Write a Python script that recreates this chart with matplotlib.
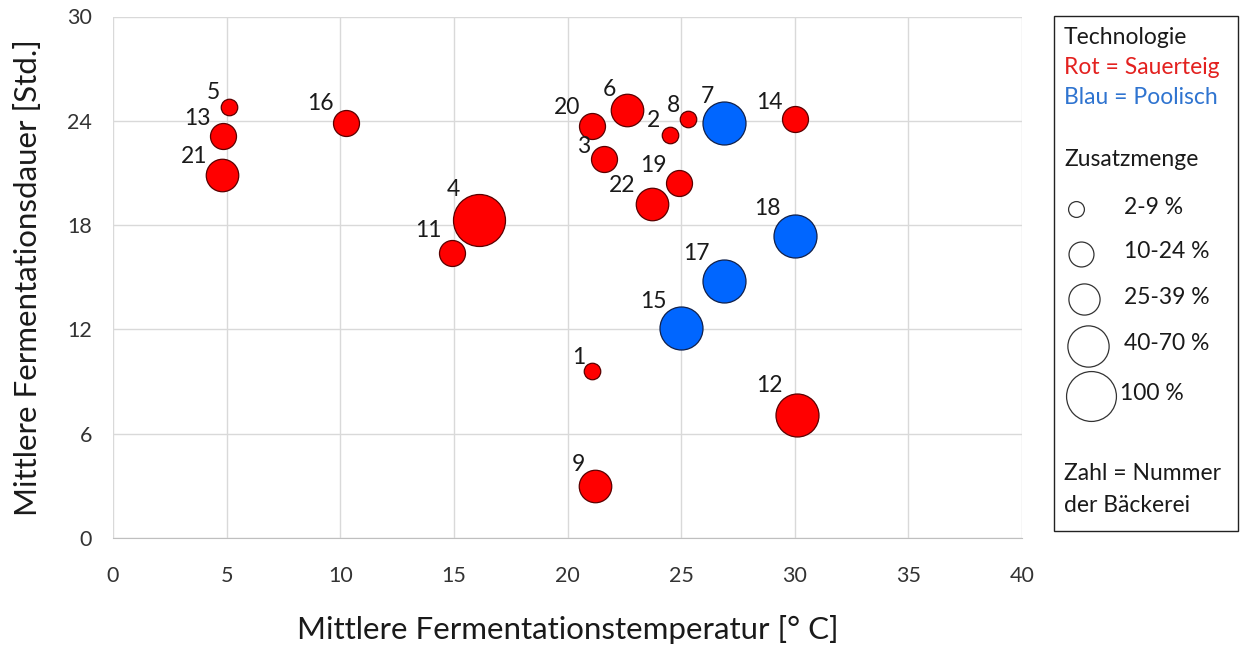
import matplotlib
matplotlib.use("Agg")
import matplotlib.pyplot as plt
from matplotlib.patches import Rectangle

plt.rcParams['font.family'] = ['Lato', 'DejaVu Sans']

# Bäckereien: Nummer, mittlere Temperatur [°C], mittlere Dauer [Std.], Technologie, Zusatzmenge
nummer = [1, 2, 3, 4, 5, 6, 7, 8, 9, 11, 12, 13, 14, 15, 16, 17, 18, 19, 20, 21, 22]
temperatur = [21.1, 24.5, 21.6, 16.1, 5.1, 22.6, 26.9, 25.3, 21.2, 14.9, 30.1,
              4.85, 30.0, 25.0, 10.25, 26.9, 30.0, 24.9, 21.1, 4.8, 23.7]
dauer = [9.6, 23.2, 21.8, 18.3, 24.8, 24.6, 23.9, 24.1, 3.0, 16.4, 7.1,
         23.1, 24.1, 12.1, 23.9, 14.8, 17.4, 20.4, 23.7, 20.9, 19.2]
technologie = ['S', 'S', 'S', 'S', 'S', 'S', 'P', 'S', 'S', 'S', 'S',
               'S', 'S', 'P', 'S', 'P', 'P', 'S', 'S', 'S', 'S']
zusatzmenge = ['2-9 %', '2-9 %', '10-24 %', '100 %', '2-9 %', '25-39 %', '40-70 %',
               '2-9 %', '25-39 %', '10-24 %', '40-70 %', '10-24 %', '10-24 %',
               '40-70 %', '10-24 %', '40-70 %', '40-70 %', '10-24 %', '10-24 %',
               '25-39 %', '25-39 %']
klassen = ['2-9 %', '10-24 %', '25-39 %', '40-70 %', '100 %']

# bubble diameter per class (pixels at 100 dpi)
durchmesser_px = {'2-9 %': 16.5, '10-24 %': 26, '25-39 %': 32.5, '40-70 %': 43, '100 %': 52}
farben = {'S': '#ff0000', 'P': '#0066ff'}
kanten = {'S': '#5a0000', 'P': '#10204a'}

def flaeche(k):
    d_pt = durchmesser_px[k] * 0.72
    return d_pt ** 2

# label offsets (pixels, right / down) from bubble centre
label_offset = {1: (-14, -14), 2: (-16, -14), 3: (-20, -13), 4: (-26, -30), 5: (-15, -14),
                6: (-17, -21), 7: (-17, -26), 8: (-14, -14), 9: (-16, -21), 11: (-23, -22),
                12: (-28, -29), 13: (-26, -18), 14: (-25, -17), 15: (-28, -26), 16: (-26, -19),
                17: (-28, -27), 18: (-27, -27), 19: (-25, -18), 20: (-25, -19), 21: (-28, -18),
                22: (-29, -19)}

FS = 16.5
W, H = 1241, 646
AX_L, AX_R, AX_T, AX_B = 113, 1022, 16.5, 538
fig = plt.figure(figsize=(W / 100, H / 100), dpi=100)
ax = fig.add_axes([AX_L / W, 1 - AX_B / H, (AX_R - AX_L) / W, (AX_B - AX_T) / H])

ax.set_xlim(0, 40)
ax.set_ylim(0, 30)
ax.set_xticks(range(0, 41, 5))
ax.set_yticks(range(0, 31, 6))
ax.grid(True, color='#d9d9d9', linewidth=1.0)
ax.set_axisbelow(True)
for name, sp in ax.spines.items():
    sp.set_visible(False)
ax.spines['bottom'].set_visible(True)
ax.spines['bottom'].set_color('#bfbfbf')
ax.tick_params(axis='both', length=0, labelsize=15.5, colors='#333333')
ax.tick_params(axis='x', pad=20)
ax.tick_params(axis='y', pad=15)

ax.set_xlabel('Mittlere Fermentationstemperatur [° C]', fontsize=22.5, color='#1a1a1a',
              va='center')
ax.set_ylabel('Mittlere Fermentationsdauer [Std.]', fontsize=22.5, color='#1a1a1a',
              va='center')
ax.xaxis.set_label_coords(0.5, (AX_B - 630) / (AX_B - AX_T))
ax.yaxis.set_label_coords((28 - AX_L) / (AX_R - AX_L), 0.5)

for n, x, y, t, z in zip(nummer, temperatur, dauer, technologie, zusatzmenge):
    ax.scatter([x], [y], s=flaeche(z), color=farben[t], edgecolors=kanten[t],
               linewidths=0.9, zorder=3)
    dx, dy = label_offset[n]
    ax.annotate(str(n), (x, y), xytext=(dx * 0.72, -dy * 0.72), textcoords='offset points',
                ha='center', va='center', fontsize=FS, color='#1a1a1a', zorder=4)

# legend panel in pixel coordinates
lg = fig.add_axes([0, 0, 1, 1], facecolor='none')
lg.set_xlim(0, W)
lg.set_ylim(H, 0)
lg.axis('off')
lg.add_patch(Rectangle((1054, 16), 184, 515, fill=False, edgecolor='#222222', linewidth=1.0))

tx = 1064
lg.text(tx, 37, 'Technologie', fontsize=FS, va='center', color='#1a1a1a')
lg.text(tx, 67, 'Rot = Sauerteig', fontsize=FS, va='center', color='#e3211f')
lg.text(tx, 98, 'Blau = Poolisch', fontsize=FS, va='center', color='#2f74d0')
lg.text(tx, 160, 'Zusatzmenge', fontsize=FS, va='center', color='#1a1a1a')

kreis_x = [1076, 1081, 1084, 1088, 1091]
kreis_y = [209, 254, 299, 346, 396]
text_x = [1124, 1124, 1124, 1124, 1120]
for k, cx, cy, lx in zip(klassen, kreis_x, kreis_y, text_x):
    lg.scatter([cx], [cy], s=flaeche(k) * 0.92, facecolors='white', edgecolors='#333333', linewidths=0.9)
    lg.text(lx, cy - 2, k, fontsize=FS, va='center', color='#1a1a1a')

lg.text(tx, 474, 'Zahl = Nummer', fontsize=FS, va='center', color='#1a1a1a')
lg.text(tx, 505, 'der Bäckerei', fontsize=FS, va='center', color='#1a1a1a')

fig.savefig('out.png', dpi=100, facecolor='white')
